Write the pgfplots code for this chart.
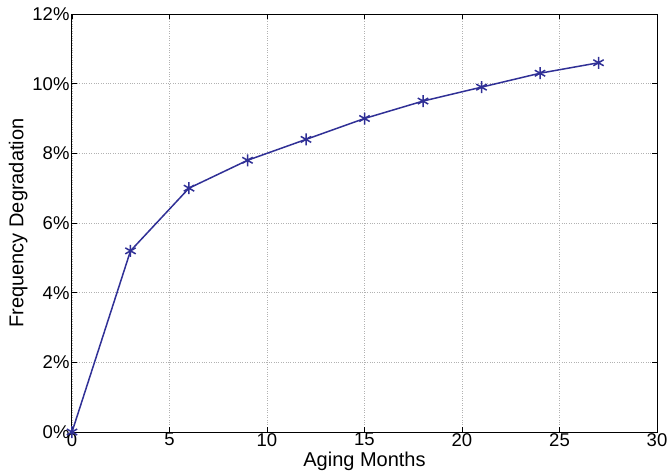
\documentclass[border=0pt]{standalone}
\usepackage{pgfplots}
\pgfplotsset{compat=1.18}
\usepackage{fontspec}
\setmainfont{Liberation Sans}
\definecolor{lineblue}{RGB}{48,48,150}
\begin{document}
\begin{tikzpicture}
\useasboundingbox (-72pt,-43pt) rectangle (595pt,432pt);
\begin{axis}[
  at={(0pt,0pt)}, anchor=south west,
  scale only axis,
  width=585pt, height=418pt,
  xmin=0, xmax=30, ymin=0, ymax=12,
  xtick={0,5,...,30}, ytick={0,2,...,12},
  yticklabel={\pgfmathprintnumber{\tick}\%},
  /pgf/number format/assume math mode=true,
  tick align=inside, tick pos=both,
  major tick length=5pt,
  grid=major,
  major grid style={dotted, gray!60, line width=0.6pt},
  axis line style={black, line width=1pt},
  tick style={black, line width=0.7pt},
  ticklabel style={font=\fontsize{18.5}{21}\selectfont},
  yticklabel style={xshift=1pt},
  xticklabel style={yshift=1pt, inner sep=2pt},
  label style={font=\fontsize{20}{23}\selectfont},
  xlabel={Aging Months}, ylabel={Frequency Degradation},
  xlabel style={inner sep=1pt, yshift=-3pt},
  ylabel style={yshift=-2pt},
  clip=false,
]
\addplot[lineblue, line width=1.5pt, mark=asterisk, mark size=6pt, mark options={line width=1.5pt}]
coordinates {(0,0) (3,5.2) (6,7.0) (9,7.8) (12,8.4) (15,9.0) (18,9.5) (21,9.9) (24,10.3) (27,10.6)};
\end{axis}
\end{tikzpicture}
\end{document}
